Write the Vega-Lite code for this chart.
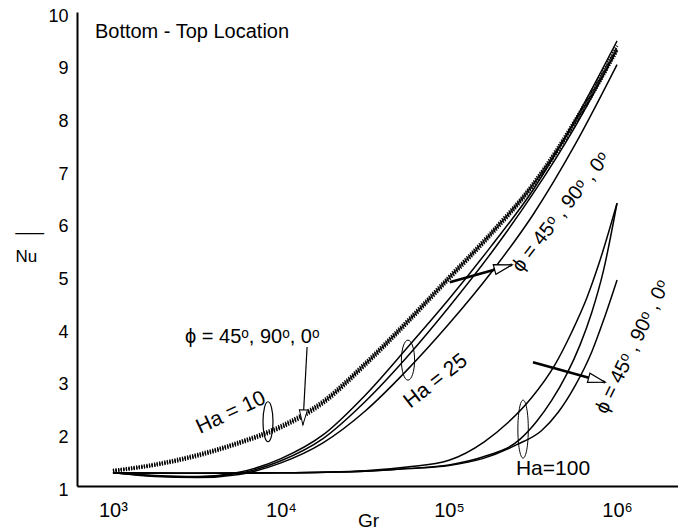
{
  "$schema": "https://vega.github.io/schema/vega-lite/v6.json",
  "width": 601,
  "height": 474,
  "autosize": {"type": "none"},
  "padding": {"left": 77, "top": 12, "right": 0, "bottom": 45},
  "config": {"font": "Liberation Sans", "view": {"stroke": null}},
  "datasets": {
    "curves": [
      {"Gr": 1000, "Nu": 1.30, "Ha": "10", "phi": "45"},
      {"Gr": 1778, "Nu": 1.42, "Ha": "10", "phi": "45"},
      {"Gr": 3162, "Nu": 1.60, "Ha": "10", "phi": "45"},
      {"Gr": 5623, "Nu": 1.84, "Ha": "10", "phi": "45"},
      {"Gr": 10000, "Nu": 2.15, "Ha": "10", "phi": "45"},
      {"Gr": 17783, "Nu": 2.62, "Ha": "10", "phi": "45"},
      {"Gr": 31623, "Nu": 3.34, "Ha": "10", "phi": "45"},
      {"Gr": 56234, "Nu": 4.14, "Ha": "10", "phi": "45"},
      {"Gr": 100000, "Nu": 4.98, "Ha": "10", "phi": "45"},
      {"Gr": 177828, "Nu": 5.82, "Ha": "10", "phi": "45"},
      {"Gr": 316228, "Nu": 6.75, "Ha": "10", "phi": "45"},
      {"Gr": 562341, "Nu": 7.95, "Ha": "10", "phi": "45"},
      {"Gr": 1000000, "Nu": 9.36, "Ha": "10", "phi": "45"},
      {"Gr": 1000, "Nu": 1.29, "Ha": "10", "phi": "90"},
      {"Gr": 1778, "Nu": 1.40, "Ha": "10", "phi": "90"},
      {"Gr": 3162, "Nu": 1.58, "Ha": "10", "phi": "90"},
      {"Gr": 5623, "Nu": 1.82, "Ha": "10", "phi": "90"},
      {"Gr": 10000, "Nu": 2.12, "Ha": "10", "phi": "90"},
      {"Gr": 17783, "Nu": 2.59, "Ha": "10", "phi": "90"},
      {"Gr": 31623, "Nu": 3.31, "Ha": "10", "phi": "90"},
      {"Gr": 56234, "Nu": 4.11, "Ha": "10", "phi": "90"},
      {"Gr": 100000, "Nu": 4.95, "Ha": "10", "phi": "90"},
      {"Gr": 177828, "Nu": 5.79, "Ha": "10", "phi": "90"},
      {"Gr": 316228, "Nu": 6.72, "Ha": "10", "phi": "90"},
      {"Gr": 562341, "Nu": 7.91, "Ha": "10", "phi": "90"},
      {"Gr": 1000000, "Nu": 9.31, "Ha": "10", "phi": "90"},
      {"Gr": 1000, "Nu": 1.28, "Ha": "10", "phi": "0"},
      {"Gr": 1778, "Nu": 1.39, "Ha": "10", "phi": "0"},
      {"Gr": 3162, "Nu": 1.56, "Ha": "10", "phi": "0"},
      {"Gr": 5623, "Nu": 1.80, "Ha": "10", "phi": "0"},
      {"Gr": 10000, "Nu": 2.10, "Ha": "10", "phi": "0"},
      {"Gr": 17783, "Nu": 2.56, "Ha": "10", "phi": "0"},
      {"Gr": 31623, "Nu": 3.28, "Ha": "10", "phi": "0"},
      {"Gr": 56234, "Nu": 4.08, "Ha": "10", "phi": "0"},
      {"Gr": 100000, "Nu": 4.92, "Ha": "10", "phi": "0"},
      {"Gr": 177828, "Nu": 5.76, "Ha": "10", "phi": "0"},
      {"Gr": 316228, "Nu": 6.69, "Ha": "10", "phi": "0"},
      {"Gr": 562341, "Nu": 7.87, "Ha": "10", "phi": "0"},
      {"Gr": 1000000, "Nu": 9.26, "Ha": "10", "phi": "0"},
      {"Gr": 1000, "Nu": 1.25, "Ha": "25", "phi": "45"},
      {"Gr": 1778, "Nu": 1.20, "Ha": "25", "phi": "45"},
      {"Gr": 3162, "Nu": 1.18, "Ha": "25", "phi": "45"},
      {"Gr": 5623, "Nu": 1.26, "Ha": "25", "phi": "45"},
      {"Gr": 10000, "Nu": 1.52, "Ha": "25", "phi": "45"},
      {"Gr": 17783, "Nu": 1.97, "Ha": "25", "phi": "45"},
      {"Gr": 31623, "Nu": 2.72, "Ha": "25", "phi": "45"},
      {"Gr": 56234, "Nu": 3.62, "Ha": "25", "phi": "45"},
      {"Gr": 100000, "Nu": 4.55, "Ha": "25", "phi": "45"},
      {"Gr": 177828, "Nu": 5.55, "Ha": "25", "phi": "45"},
      {"Gr": 316228, "Nu": 6.62, "Ha": "25", "phi": "45"},
      {"Gr": 562341, "Nu": 7.95, "Ha": "25", "phi": "45"},
      {"Gr": 1000000, "Nu": 9.45, "Ha": "25", "phi": "45"},
      {"Gr": 1000, "Nu": 1.25, "Ha": "25", "phi": "90"},
      {"Gr": 1778, "Nu": 1.19, "Ha": "25", "phi": "90"},
      {"Gr": 3162, "Nu": 1.17, "Ha": "25", "phi": "90"},
      {"Gr": 5623, "Nu": 1.24, "Ha": "25", "phi": "90"},
      {"Gr": 10000, "Nu": 1.48, "Ha": "25", "phi": "90"},
      {"Gr": 17783, "Nu": 1.90, "Ha": "25", "phi": "90"},
      {"Gr": 31623, "Nu": 2.60, "Ha": "25", "phi": "90"},
      {"Gr": 56234, "Nu": 3.45, "Ha": "25", "phi": "90"},
      {"Gr": 100000, "Nu": 4.40, "Ha": "25", "phi": "90"},
      {"Gr": 177828, "Nu": 5.42, "Ha": "25", "phi": "90"},
      {"Gr": 316228, "Nu": 6.55, "Ha": "25", "phi": "90"},
      {"Gr": 562341, "Nu": 7.82, "Ha": "25", "phi": "90"},
      {"Gr": 1000000, "Nu": 9.28, "Ha": "25", "phi": "90"},
      {"Gr": 1000, "Nu": 1.25, "Ha": "25", "phi": "0"},
      {"Gr": 1778, "Nu": 1.18, "Ha": "25", "phi": "0"},
      {"Gr": 3162, "Nu": 1.16, "Ha": "25", "phi": "0"},
      {"Gr": 5623, "Nu": 1.22, "Ha": "25", "phi": "0"},
      {"Gr": 10000, "Nu": 1.44, "Ha": "25", "phi": "0"},
      {"Gr": 17783, "Nu": 1.82, "Ha": "25", "phi": "0"},
      {"Gr": 31623, "Nu": 2.42, "Ha": "25", "phi": "0"},
      {"Gr": 56234, "Nu": 3.20, "Ha": "25", "phi": "0"},
      {"Gr": 100000, "Nu": 4.08, "Ha": "25", "phi": "0"},
      {"Gr": 177828, "Nu": 5.05, "Ha": "25", "phi": "0"},
      {"Gr": 316228, "Nu": 6.15, "Ha": "25", "phi": "0"},
      {"Gr": 562341, "Nu": 7.48, "Ha": "25", "phi": "0"},
      {"Gr": 1000000, "Nu": 9.00, "Ha": "25", "phi": "0"},
      {"Gr": 1000, "Nu": 1.25, "Ha": "100", "phi": "45"},
      {"Gr": 3162, "Nu": 1.24, "Ha": "100", "phi": "45"},
      {"Gr": 10000, "Nu": 1.25, "Ha": "100", "phi": "45"},
      {"Gr": 31623, "Nu": 1.29, "Ha": "100", "phi": "45"},
      {"Gr": 56234, "Nu": 1.36, "Ha": "100", "phi": "45"},
      {"Gr": 100000, "Nu": 1.49, "Ha": "100", "phi": "45"},
      {"Gr": 162181, "Nu": 1.84, "Ha": "100", "phi": "45"},
      {"Gr": 223872, "Nu": 2.20, "Ha": "100", "phi": "45"},
      {"Gr": 309030, "Nu": 2.67, "Ha": "100", "phi": "45"},
      {"Gr": 426580, "Nu": 3.30, "Ha": "100", "phi": "45"},
      {"Gr": 537032, "Nu": 3.92, "Ha": "100", "phi": "45"},
      {"Gr": 660693, "Nu": 4.57, "Ha": "100", "phi": "45"},
      {"Gr": 776247, "Nu": 5.20, "Ha": "100", "phi": "45"},
      {"Gr": 1000000, "Nu": 6.37, "Ha": "100", "phi": "45"},
      {"Gr": 1000, "Nu": 1.25, "Ha": "100", "phi": "90"},
      {"Gr": 3162, "Nu": 1.24, "Ha": "100", "phi": "90"},
      {"Gr": 10000, "Nu": 1.25, "Ha": "100", "phi": "90"},
      {"Gr": 31623, "Nu": 1.28, "Ha": "100", "phi": "90"},
      {"Gr": 56234, "Nu": 1.33, "Ha": "100", "phi": "90"},
      {"Gr": 100000, "Nu": 1.40, "Ha": "100", "phi": "90"},
      {"Gr": 158489, "Nu": 1.55, "Ha": "100", "phi": "90"},
      {"Gr": 263027, "Nu": 1.88, "Ha": "100", "phi": "90"},
      {"Gr": 331131, "Nu": 2.22, "Ha": "100", "phi": "90"},
      {"Gr": 407380, "Nu": 2.62, "Ha": "100", "phi": "90"},
      {"Gr": 501187, "Nu": 3.12, "Ha": "100", "phi": "90"},
      {"Gr": 602560, "Nu": 3.68, "Ha": "100", "phi": "90"},
      {"Gr": 707946, "Nu": 4.30, "Ha": "100", "phi": "90"},
      {"Gr": 831764, "Nu": 5.10, "Ha": "100", "phi": "90"},
      {"Gr": 1000000, "Nu": 6.37, "Ha": "100", "phi": "90"},
      {"Gr": 1000, "Nu": 1.25, "Ha": "100", "phi": "0"},
      {"Gr": 3162, "Nu": 1.24, "Ha": "100", "phi": "0"},
      {"Gr": 10000, "Nu": 1.25, "Ha": "100", "phi": "0"},
      {"Gr": 31623, "Nu": 1.28, "Ha": "100", "phi": "0"},
      {"Gr": 56234, "Nu": 1.33, "Ha": "100", "phi": "0"},
      {"Gr": 100000, "Nu": 1.39, "Ha": "100", "phi": "0"},
      {"Gr": 158489, "Nu": 1.52, "Ha": "100", "phi": "0"},
      {"Gr": 251189, "Nu": 1.78, "Ha": "100", "phi": "0"},
      {"Gr": 354813, "Nu": 2.05, "Ha": "100", "phi": "0"},
      {"Gr": 446684, "Nu": 2.40, "Ha": "100", "phi": "0"},
      {"Gr": 562341, "Nu": 2.90, "Ha": "100", "phi": "0"},
      {"Gr": 707946, "Nu": 3.55, "Ha": "100", "phi": "0"},
      {"Gr": 831764, "Nu": 4.15, "Ha": "100", "phi": "0"},
      {"Gr": 1000000, "Nu": 4.91, "Ha": "100", "phi": "0"}
    ],
    "ellipses": [
      {"id": "Ha10", "Gr": 8370, "Nu": 2.22},
      {"id": "Ha25", "Gr": 57000, "Nu": 3.39},
      {"id": "Ha100", "Gr": 276000, "Nu": 2.08}
    ],
    "arrows": [
      {"id": "down", "Gr": 14300, "Nu": 3.64, "Gr2": 13500, "Nu2": 2.16},
      {"id": "upper", "Gr": 101000, "Nu": 4.87, "Gr2": 237000, "Nu2": 5.2},
      {"id": "lower", "Gr": 316000, "Nu": 3.35, "Gr2": 849000, "Nu2": 2.97}
    ],
    "labels": [
      {"id": "loc", "Gr": 781, "Nu": 9.62, "text": "Bottom - Top Location"},
      {"id": "phi10", "Gr": 2685, "Nu": 3.83, "text": "ϕ = 45ᵒ, 90ᵒ, 0ᵒ"},
      {"id": "ha10", "Gr": 5040, "Nu": 2.39, "text": "Ha = 10"},
      {"id": "ha25", "Gr": 83500, "Nu": 2.99, "text": "Ha = 25"},
      {"id": "ha100", "Gr": 416000, "Nu": 1.32, "text": "Ha=100"},
      {"id": "phi25", "Gr": 464000, "Nu": 6.2, "text": "ϕ = 45ᵒ , 90ᵒ , 0ᵒ"},
      {"id": "phi100", "Gr": 1240000, "Nu": 3.64, "text": "ϕ = 45ᵒ , 90ᵒ , 0ᵒ"}
    ]
  },
  "encoding": {
    "x": {
      "field": "Gr", "type": "quantitative",
      "scale": {"type": "log", "domain": [611, 2306000], "nice": false},
      "axis": {
        "values": [1000, 10000, 100000, 1000000],
        "labelExpr": "datum.value == 1000 ? '10³' : datum.value == 10000 ? '10⁴' : datum.value == 100000 ? '10⁵' : '10⁶'",
        "grid": false, "ticks": false,
        "domainColor": "black", "domainWidth": 2,
        "labelFontSize": 20, "labelColor": "black", "labelPadding": 14,
        "title": "Gr", "titleFontSize": 19, "titleFontWeight": "normal", "titleColor": "black",
        "titleX": 291, "titleY": 40, "titleBaseline": "alphabetic", "titleAlign": "center"
      }
    },
    "y": {
      "field": "Nu", "type": "quantitative",
      "scale": {"domain": [1, 10], "nice": false, "zero": false},
      "axis": {
        "values": [1, 2, 3, 4, 5, 6, 7, 8, 9, 10],
        "grid": false, "ticks": false,
        "domainColor": "black", "domainWidth": 2,
        "labelFontSize": 18, "labelColor": "black", "labelPadding": 9, "labelOffset": 4,
        "title": ["___", "Nu"], "titleFontSize": 17, "titleFontWeight": "normal", "titleColor": "black",
        "titleAngle": 0, "titleAlign": "left", "titleBaseline": "alphabetic",
        "titleX": -62, "titleY": 218, "titleLineHeight": 31
      }
    }
  },
  "layer": [
    {
      "mark": {"type": "rule", "color": "#333333", "strokeWidth": 1},
      "encoding": {"y": {"datum": 10}}
    },
    {
      "data": {"name": "curves"},
      "transform": [{"filter": "datum.Ha == '10'"}],
      "mark": {"type": "line", "interpolate": "monotone", "color": "black", "strokeWidth": 3, "strokeDash": [1.2, 1.4]},
      "encoding": {"detail": {"field": "phi"}}
    },
    {
      "data": {"name": "curves"},
      "transform": [{"filter": "datum.Ha != '10'"}],
      "mark": {"type": "line", "interpolate": "monotone", "color": "black", "strokeWidth": 1.5},
      "encoding": {"detail": [{"field": "Ha"}, {"field": "phi"}]}
    },
    {
      "data": {"name": "ellipses"},
      "transform": [{"filter": "datum.id == 'Ha10'"}],
      "mark": {"type": "point", "shape": "M0,-1A0.25,1 0 1,1 0,1A0.25,1 0 1,1 0,-1Z", "size": 1600, "filled": false, "color": "black", "strokeWidth": 1.2, "opacity": 1}
    },
    {
      "data": {"name": "ellipses"},
      "transform": [{"filter": "datum.id == 'Ha25'"}],
      "mark": {"type": "point", "shape": "M0,-1A0.33,1 0 1,1 0,1A0.33,1 0 1,1 0,-1Z", "size": 1600, "filled": false, "color": "black", "strokeWidth": 1, "opacity": 1}
    },
    {
      "data": {"name": "ellipses"},
      "transform": [{"filter": "datum.id == 'Ha100'"}],
      "mark": {"type": "point", "shape": "M0,-1A0.18,1 0 1,1 0,1A0.18,1 0 1,1 0,-1Z", "size": 3364, "filled": false, "color": "black", "strokeWidth": 1, "opacity": 1}
    },
    {
      "data": {"name": "arrows"},
      "transform": [{"filter": "datum.id == 'down'"}],
      "mark": {"type": "rule", "color": "black", "strokeWidth": 1.2},
      "encoding": {"x2": {"field": "Gr2"}, "y2": {"field": "Nu2"}}
    },
    {
      "data": {"name": "arrows"},
      "transform": [{"filter": "datum.id != 'down'"}],
      "mark": {"type": "rule", "color": "black", "strokeWidth": 2.5},
      "encoding": {"x2": {"field": "Gr2"}, "y2": {"field": "Nu2"}}
    },
    {
      "data": {"name": "arrows"},
      "transform": [{"filter": "datum.id == 'down'"}],
      "mark": {"type": "point", "shape": "M0,0L-1,-0.27L-1,0.27Z", "size": 900, "angle": 92, "filled": true, "fill": "white", "stroke": "black", "strokeWidth": 1, "opacity": 1},
      "encoding": {"x": {"field": "Gr2", "type": "quantitative"}, "y": {"field": "Nu2", "type": "quantitative"}}
    },
    {
      "data": {"name": "arrows"},
      "transform": [{"filter": "datum.id == 'upper'"}],
      "mark": {"type": "point", "shape": "M0,0L-1,-0.28L-1,0.28Z", "size": 1296, "angle": -15, "filled": true, "fill": "white", "stroke": "black", "strokeWidth": 1.2, "opacity": 1},
      "encoding": {"x": {"field": "Gr2", "type": "quantitative"}, "y": {"field": "Nu2", "type": "quantitative"}}
    },
    {
      "data": {"name": "arrows"},
      "transform": [{"filter": "datum.id == 'lower'"}],
      "mark": {"type": "point", "shape": "M0,0L-1,-0.28L-1,0.28Z", "size": 1156, "angle": 15.5, "filled": true, "fill": "white", "stroke": "black", "strokeWidth": 1.2, "opacity": 1},
      "encoding": {"x": {"field": "Gr2", "type": "quantitative"}, "y": {"field": "Nu2", "type": "quantitative"}}
    },
    {
      "data": {"name": "labels"},
      "transform": [{"filter": "datum.id == 'loc'"}],
      "mark": {"type": "text", "align": "left", "baseline": "middle", "fontSize": 20, "color": "black"},
      "encoding": {"text": {"field": "text"}}
    },
    {
      "data": {"name": "labels"},
      "transform": [{"filter": "datum.id == 'phi10'"}],
      "mark": {"type": "text", "align": "left", "baseline": "middle", "fontSize": 20, "color": "black"},
      "encoding": {"text": {"field": "text"}}
    },
    {
      "data": {"name": "labels"},
      "transform": [{"filter": "datum.id == 'ha100'"}],
      "mark": {"type": "text", "align": "center", "baseline": "middle", "fontSize": 21, "color": "black"},
      "encoding": {"text": {"field": "text"}}
    },
    {
      "data": {"name": "labels"},
      "transform": [{"filter": "datum.id == 'ha10'"}],
      "mark": {"type": "text", "align": "center", "baseline": "middle", "fontSize": 21, "angle": -25, "color": "black"},
      "encoding": {"text": {"field": "text"}}
    },
    {
      "data": {"name": "labels"},
      "transform": [{"filter": "datum.id == 'ha25'"}],
      "mark": {"type": "text", "align": "center", "baseline": "middle", "fontSize": 21, "angle": -38, "color": "black"},
      "encoding": {"text": {"field": "text"}}
    },
    {
      "data": {"name": "labels"},
      "transform": [{"filter": "datum.id == 'phi25'"}],
      "mark": {"type": "text", "align": "center", "baseline": "middle", "fontSize": 20, "angle": -52, "color": "black"},
      "encoding": {"text": {"field": "text"}}
    },
    {
      "data": {"name": "labels"},
      "transform": [{"filter": "datum.id == 'phi100'"}],
      "mark": {"type": "text", "align": "center", "baseline": "middle", "fontSize": 20, "angle": -64, "color": "black"},
      "encoding": {"text": {"field": "text"}}
    }
  ]
}
